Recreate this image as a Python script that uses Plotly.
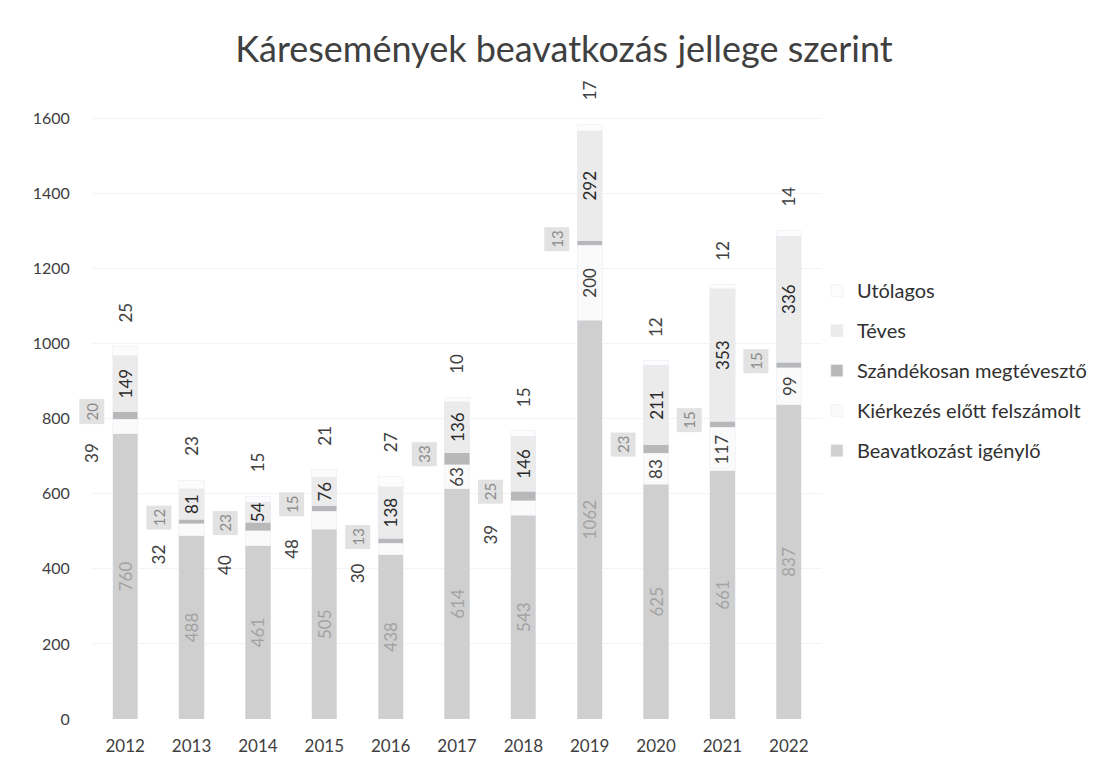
import plotly.graph_objects as go

# adatok
evek = ["2012", "2013", "2014", "2015", "2016", "2017", "2018", "2019", "2020", "2021", "2022"]
beavatkozast_igenylo = [760, 488, 461, 505, 438, 614, 543, 1062, 625, 661, 837]
kierkezes_elott = [39, 32, 40, 48, 30, 63, 39, 200, 83, 117, 99]
szandekosan = [20, 12, 23, 15, 13, 33, 25, 13, 23, 15, 15]
teves = [149, 81, 54, 76, 138, 136, 146, 292, 211, 353, 336]
utolagos = [25, 23, 15, 21, 27, 10, 15, 17, 12, 12, 14]

# a kiérkezés előtt felszámolt címke ezekben az években az oszlop mellett áll
kierkezes_oldalt = ["2012", "2013", "2014", "2015", "2016", "2018"]

FONT = "Lato"
SZURKE = "#404040"

fig = go.Figure()

fig.add_trace(go.Bar(
    x=evek, y=beavatkozast_igenylo, name="Beavatkozást igénylő",
    marker_color="#cfcfcf", text=beavatkozast_igenylo,
    textposition="inside", insidetextanchor="middle", textangle=-90,
    constraintext="none",
    textfont=dict(family=FONT, size=17, color="#a3a3a3"),
    legendgroup="a", legendrank=5,
))
fig.add_trace(go.Bar(
    x=evek, y=kierkezes_elott, name="Kiérkezés előtt felszámolt",
    marker_color="#fafafa", legendgroup="b", legendrank=4,
))
fig.add_trace(go.Bar(
    x=evek, y=szandekosan, name="Szándékosan megtévesztő",
    marker_color="#b8b8b8", legendgroup="c", legendrank=3,
))
fig.add_trace(go.Bar(
    x=evek, y=teves, name="Téves",
    marker_color="#ebebeb", text=teves,
    textposition="inside", insidetextanchor="middle", textangle=-90,
    constraintext="none",
    textfont=dict(family=FONT, size=17, color="#2a2a2a"),
    legendgroup="d", legendrank=2,
))
fig.add_trace(go.Bar(
    x=evek, y=utolagos, name="Utólagos",
    marker_color="#fcfcfc", legendgroup="e", legendrank=1,
))

# címkék, amelyeket a sávok mellé/fölé kell tenni
# (kategória tengelyen a sorszámot adjuk meg, mert a "2012" szöveget számnak venné)
for i, ev in enumerate(evek):
    alap = beavatkozast_igenylo[i]
    if ev in kierkezes_oldalt:
        fig.add_annotation(x=i, y=alap, xshift=-33, yshift=-19,
                           text=str(kierkezes_elott[i]), textangle=-90,
                           showarrow=False,
                           font=dict(family=FONT, size=17, color=SZURKE))
    else:
        fig.add_annotation(x=i, y=alap + kierkezes_elott[i] / 2,
                           text=str(kierkezes_elott[i]), textangle=-90,
                           showarrow=False,
                           font=dict(family=FONT, size=17, color=SZURKE))
    fig.add_annotation(x=i, y=alap + kierkezes_elott[i] + szandekosan[i] / 2,
                       xshift=-33, yshift=4,
                       text=str(szandekosan[i]), textangle=-90,
                       showarrow=False, bgcolor="#e2e2e2", borderpad=3,
                       font=dict(family=FONT, size=15, color="#8a8a8a"))
    osszes = alap + kierkezes_elott[i] + szandekosan[i] + teves[i] + utolagos[i]
    fig.add_annotation(x=i, y=osszes, yshift=34,
                       text=str(utolagos[i]), textangle=-90,
                       showarrow=False,
                       font=dict(family=FONT, size=17, color=SZURKE))

fig.update_layout(
    width=1112, height=777,
    barmode="stack", bargap=0.62,
    paper_bgcolor="white", plot_bgcolor="white",
    margin=dict(l=84, r=298, t=73, b=66),
    title=dict(text="Káresemények beavatkozás jellege szerint",
               x=0.5, xanchor="center", y=0.947, yanchor="middle",
               font=dict(family=FONT, size=36, color=SZURKE)),
    font=dict(family=FONT, size=16, color=SZURKE),
    legend=dict(x=0.993, xanchor="left", y=0.702, yanchor="top",
                traceorder="grouped", tracegroupgap=11,
                font=dict(family=FONT, size=20, color="#303030"),
                bgcolor="rgba(0,0,0,0)"),
    showlegend=True,
)
fig.update_xaxes(type="category", range=[-0.5, 10.5], showline=False,
                 ticks="outside", ticklen=12, tickcolor="white",
                 tickfont=dict(size=17, color=SZURKE))
fig.update_yaxes(range=[0, 1700], tickvals=[0, 200, 400, 600, 800, 1000, 1200, 1400, 1600],
                 showgrid=True, gridcolor="#f3f3f3", zeroline=False,
                 ticks="outside", ticklen=18, tickcolor="white",
                 tickfont=dict(size=16, color=SZURKE))

fig.write_html("out.html")
